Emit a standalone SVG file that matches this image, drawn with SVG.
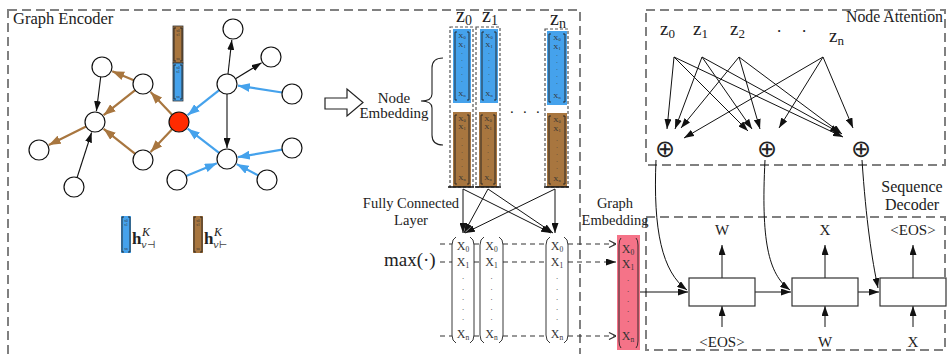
<svg xmlns="http://www.w3.org/2000/svg" width="948" height="354" viewBox="0 0 948 354">
<defs>
<style>
.t{font-family:"Liberation Serif","Times New Roman",serif;fill:#222}
.box{fill:none;stroke:#808080;stroke-width:2;stroke-dasharray:9,5}
.nd{fill:#fff;stroke:#111;stroke-width:1.2}
.eb{stroke:#45A2EC;stroke-width:2.2;fill:none;marker-end:url(#mb)}
.er{stroke:#A8763F;stroke-width:2.2;fill:none;marker-end:url(#mr)}
.ek{stroke:#111;stroke-width:1.1;fill:none;marker-end:url(#mk)}
.ar{stroke:#111;stroke-width:1;fill:none;marker-end:url(#mk)}
.dl{stroke:#333;stroke-width:1.2;stroke-dasharray:5,4;fill:none}
.br{stroke:#222;stroke-width:0.9;fill:none}
.cx{font-family:"Liberation Serif","Times New Roman",serif;fill:#333;text-anchor:middle}
.cd{stroke:#555;stroke-width:1.2;stroke-dasharray:3,2;fill:none}
.sm{font-family:"DejaVu Sans",sans-serif;fill:#222;text-anchor:middle;font-size:24px}
</style>
<marker id="mb" viewBox="0 0 12 9" refX="12" refY="4.5" markerWidth="12" markerHeight="9" markerUnits="userSpaceOnUse" orient="auto"><path d="M0,0 L12,4.5 L0,9 z" fill="#45A2EC"/></marker>
<marker id="mr" viewBox="0 0 12 9" refX="12" refY="4.5" markerWidth="12" markerHeight="9" markerUnits="userSpaceOnUse" orient="auto"><path d="M0,0 L12,4.5 L0,9 z" fill="#A8763F"/></marker>
<marker id="mk" viewBox="0 0 10 7" refX="10" refY="3.5" markerWidth="10" markerHeight="7" markerUnits="userSpaceOnUse" orient="auto"><path d="M0,0 L10,3.5 L0,7 z" fill="#111"/></marker>
<marker id="mo" viewBox="0 0 8 8" refX="8" refY="4" markerWidth="8" markerHeight="8" markerUnits="userSpaceOnUse" orient="auto"><path d="M1,0.5 L8,4 L1,7.5" fill="none" stroke="#333" stroke-width="1.2"/></marker>
</defs>
<rect width="948" height="354" fill="#fff"/>

<g id="graph-encoder-box">
<rect class="box" x="8" y="10" width="572" height="370"/>
<text class="t" x="13" y="24" font-size="16.5">Graph Encoder</text>
</g>
<g id="node-attention-box">
<rect class="box" x="646" y="10" width="299" height="155"/>
<text class="t" x="943" y="22" font-size="15.8" text-anchor="end">Node Attention</text>
</g>
<g id="sequence-decoder-box">
<rect class="box" x="646" y="217" width="299" height="133"/>
<text class="t" x="912" y="192" font-size="16" text-anchor="middle">Sequence</text>
<text class="t" x="912" y="210" font-size="16" text-anchor="middle">Decoder</text>
</g>

<g id="graph-edges">
<line class="ek" x1="228" y1="74" x2="231.8" y2="39.9"/>
<line class="ek" x1="235.5" y1="78.8" x2="261.6" y2="62.8"/>
<line class="eb" x1="282.1" y1="92.5" x2="237.9" y2="85.7"/>
<line class="eb" x1="219.2" y1="90.2" x2="187.6" y2="115.2"/>
<line class="ek" x1="227" y1="94" x2="227" y2="148"/>
<line class="eb" x1="219.1" y1="152.9" x2="187.7" y2="128.7"/>
<line class="eb" x1="282.1" y1="149.7" x2="237.8" y2="157.2"/>
<line class="eb" x1="258.2" y1="175.4" x2="236.7" y2="164.1"/>
<line class="eb" x1="186.2" y1="176.1" x2="216.9" y2="163.3"/>
<line class="er" x1="172.1" y1="114.7" x2="150.6" y2="92"/>
<line class="er" x1="172.1" y1="129.3" x2="150.6" y2="152"/>
<line class="er" x1="133.8" y1="80.2" x2="112.2" y2="71.2"/>
<line class="er" x1="135.2" y1="90.2" x2="103.6" y2="115.2"/>
<line class="er" x1="135.2" y1="153.8" x2="103.6" y2="128.8"/>
<line class="ek" x1="100.7" y1="76.9" x2="96.4" y2="111.1"/>
<line class="ek" x1="77.1" y1="177.5" x2="91.6" y2="132.5"/>
<line class="er" x1="86.1" y1="126.5" x2="48.8" y2="145.1"/>
</g>

<g id="n-top"><circle class="nd" cx="233" cy="29" r="10"/></g>
<g id="n-tr"><circle class="nd" cx="271" cy="57" r="10"/></g>
<g id="n-hub1"><circle class="nd" cx="227" cy="84" r="10"/></g>
<g id="n-r1"><circle class="nd" cx="292" cy="94" r="10"/></g>
<g id="n-red"><circle cx="179" cy="122" r="10" fill="#FF2A00" stroke="#111" stroke-width="1.2"/></g>
<g id="n-b1"><circle class="nd" cx="143" cy="84" r="10"/></g>
<g id="n-tl"><circle class="nd" cx="102" cy="67" r="10"/></g>
<g id="n-mid"><circle class="nd" cx="95" cy="122" r="10"/></g>
<g id="n-left"><circle class="nd" cx="39" cy="150" r="10"/></g>
<g id="n-bot"><circle class="nd" cx="74" cy="187" r="10"/></g>
<g id="n-b2"><circle class="nd" cx="143" cy="160" r="10"/></g>
<g id="n-hub2"><circle class="nd" cx="227" cy="159" r="10"/></g>
<g id="n-r2"><circle class="nd" cx="292" cy="148" r="10"/></g>
<g id="n-br"><circle class="nd" cx="267" cy="180" r="10"/></g>
<g id="n-bl"><circle class="nd" cx="177" cy="180" r="10"/></g>

<g id="enc-vector">
<rect x="173" y="26" width="10" height="37" fill="#A8763F" stroke="#333" stroke-width="0.8"/>
<rect x="173" y="63" width="10" height="38" fill="#45A2EC" stroke="#333" stroke-width="0.8"/>
<path class="br" d="M176,28 h-2 v33 h2 M180,28 h2 v33 h-2 M176,65 h-2 v34 h2 M180,65 h2 v34 h-2"/>
<text class="cx" x="178" y="32" font-size="3.5">x0</text>
<text class="cx" x="178" y="36" font-size="3.5">x1</text>
<text class="cx" x="178" y="60" font-size="3.5">xn</text>
<text class="cx" x="178" y="69" font-size="3.5">x0</text>
<text class="cx" x="178" y="73" font-size="3.5">x1</text>
<text class="cx" x="178" y="98" font-size="3.5">xn</text>
</g>

<g id="legend-blue">
<rect x="121" y="216" width="10" height="37" fill="#45A2EC"/>
<path class="br" d="M124,217 h-2 v35 h2 M128,217 h2 v35 h-2" stroke-width="1.1"/>
<text class="cx" x="126" y="222" font-size="3.5">x0</text>
<text class="cx" x="126" y="226" font-size="3.5">x1</text>
<text class="cx" x="126" y="250" font-size="3.5">xn</text>
<text class="t" x="132" y="244" font-size="17" font-weight="bold">h</text>
<text class="t" x="142" y="236" font-size="12" font-style="italic">K</text>
<text x="141" y="248" font-size="10" font-style="italic" fill="#444" font-family="DejaVu Serif,serif">v⊣</text>
</g>
<g id="legend-brown">
<rect x="193" y="216" width="10" height="37" fill="#A8763F"/>
<path class="br" d="M196,217 h-2 v35 h2 M200,217 h2 v35 h-2" stroke-width="1.1"/>
<text class="cx" x="198" y="222" font-size="3.5">x0</text>
<text class="cx" x="198" y="226" font-size="3.5">x1</text>
<text class="cx" x="198" y="250" font-size="3.5">xn</text>
<text class="t" x="204" y="244" font-size="17" font-weight="bold">h</text>
<text class="t" x="214" y="236" font-size="12" font-style="italic">K</text>
<text x="213" y="248" font-size="10" font-style="italic" fill="#444" font-family="DejaVu Serif,serif">v⊢</text>
</g>

<g id="hollow-arrow">
<polygon points="325,98 347,98 347,89 363,102.5 347,116 347,109 325,109" fill="#fff" stroke="#222" stroke-width="1.2"/>
</g>

<g id="node-embedding-label">
<text class="t" x="394" y="103" font-size="15" text-anchor="middle">Node</text>
<text class="t" x="394" y="118" font-size="15" text-anchor="middle">Embedding</text>
<path d="M443,58 Q432,58 432,68 L432,94 Q432,101 421,101 Q432,101 432,108 L432,135 Q432,145 443,145" fill="none" stroke="#222" stroke-width="1.1"/>
</g>

<g id="emb-z0">
<text class="t" x="456" y="22" font-size="20">z<tspan font-size="14" dy="3">0</tspan></text>
<rect x="453" y="29" width="18" height="74" fill="#45A2EC"/>
<rect x="453" y="112" width="18" height="75" fill="#A8763F"/>
<path class="br" d="M457,32 h-2 v68 h2 M467,32 h2 v68 h-2 M457,115 h-2 v69 h2 M467,115 h2 v69 h-2"/>
<rect class="cd" x="450" y="27" width="23" height="160"/>
<line x1="448" y1="187" x2="474" y2="187" stroke="#111" stroke-width="1.5"/>
<text class="cx" x="462" y="38" font-size="7">X<tspan font-size="4.5" dy="1">0</tspan></text>
<text class="cx" x="462" y="46.5" font-size="7">X<tspan font-size="4.5" dy="1">1</tspan></text>
<text class="cx" x="462" y="56" font-size="6">·</text><text class="cx" x="462" y="63" font-size="6">·</text><text class="cx" x="462" y="70" font-size="6">·</text><text class="cx" x="462" y="77" font-size="6">·</text><text class="cx" x="462" y="84" font-size="6">·</text>
<text class="cx" x="462" y="96" font-size="7">X<tspan font-size="4.5" dy="1">n</tspan></text>
<text class="cx" x="462" y="120.5" font-size="7">X<tspan font-size="4.5" dy="1">0</tspan></text>
<text class="cx" x="462" y="129" font-size="7">X<tspan font-size="4.5" dy="1">1</tspan></text>
<text class="cx" x="462" y="141" font-size="6">·</text><text class="cx" x="462" y="148" font-size="6">·</text><text class="cx" x="462" y="155" font-size="6">·</text><text class="cx" x="462" y="162" font-size="6">·</text><text class="cx" x="462" y="169" font-size="6">·</text>
<text class="cx" x="462" y="180" font-size="7">X<tspan font-size="4.5" dy="1">n</tspan></text>
</g>
<g id="emb-z1">
<text class="t" x="482" y="22" font-size="20">z<tspan font-size="14" dy="3">1</tspan></text>
<rect x="480" y="29" width="18" height="74" fill="#45A2EC"/>
<rect x="479" y="112" width="18" height="75" fill="#A8763F"/>
<path class="br" d="M484,32 h-2 v68 h2 M494,32 h2 v68 h-2 M483,115 h-2 v69 h2 M493,115 h2 v69 h-2"/>
<rect class="cd" x="476" y="27" width="24" height="160"/>
<line x1="475" y1="187" x2="501" y2="187" stroke="#111" stroke-width="1.5"/>
<text class="cx" x="489" y="38" font-size="7">X<tspan font-size="4.5" dy="1">0</tspan></text>
<text class="cx" x="489" y="46.5" font-size="7">X<tspan font-size="4.5" dy="1">1</tspan></text>
<text class="cx" x="489" y="56" font-size="6">·</text><text class="cx" x="489" y="63" font-size="6">·</text><text class="cx" x="489" y="70" font-size="6">·</text><text class="cx" x="489" y="77" font-size="6">·</text><text class="cx" x="489" y="84" font-size="6">·</text>
<text class="cx" x="489" y="96" font-size="7">X<tspan font-size="4.5" dy="1">n</tspan></text>
<text class="cx" x="488" y="120.5" font-size="7">X<tspan font-size="4.5" dy="1">0</tspan></text>
<text class="cx" x="488" y="129" font-size="7">X<tspan font-size="4.5" dy="1">1</tspan></text>
<text class="cx" x="488" y="141" font-size="6">·</text><text class="cx" x="488" y="148" font-size="6">·</text><text class="cx" x="488" y="155" font-size="6">·</text><text class="cx" x="488" y="162" font-size="6">·</text><text class="cx" x="488" y="169" font-size="6">·</text>
<text class="cx" x="488" y="180" font-size="7">X<tspan font-size="4.5" dy="1">n</tspan></text>
</g>
<g id="emb-dots">
<text class="t" x="510" y="113" font-size="15">.</text>
<text class="t" x="523" y="113" font-size="15">.</text>
<text class="t" x="536" y="113" font-size="15">.</text>
</g>
<g id="emb-zn">
<text class="t" x="550" y="25" font-size="20">z<tspan font-size="14" dy="3">n</tspan></text>
<rect x="547" y="31" width="20" height="74" fill="#45A2EC"/>
<rect x="547" y="113" width="20" height="74" fill="#A8763F"/>
<path class="br" d="M551,34 h-2 v68 h2 M563,34 h2 v68 h-2 M551,116 h-2 v68 h2 M563,116 h2 v68 h-2"/>
<rect class="cd" x="545" y="29" width="23" height="158"/>
<line x1="544" y1="187" x2="569" y2="187" stroke="#111" stroke-width="1.5"/>
<text class="cx" x="557" y="40" font-size="7">X<tspan font-size="4.5" dy="1">0</tspan></text>
<text class="cx" x="557" y="48.5" font-size="7">X<tspan font-size="4.5" dy="1">1</tspan></text>
<text class="cx" x="557" y="58" font-size="6">·</text><text class="cx" x="557" y="65" font-size="6">·</text><text class="cx" x="557" y="72" font-size="6">·</text><text class="cx" x="557" y="79" font-size="6">·</text><text class="cx" x="557" y="86" font-size="6">·</text>
<text class="cx" x="557" y="98" font-size="7">X<tspan font-size="4.5" dy="1">n</tspan></text>
<text class="cx" x="557" y="122" font-size="7">X<tspan font-size="4.5" dy="1">0</tspan></text>
<text class="cx" x="557" y="130.5" font-size="7">X<tspan font-size="4.5" dy="1">1</tspan></text>
<text class="cx" x="557" y="143" font-size="6">·</text><text class="cx" x="557" y="150" font-size="6">·</text><text class="cx" x="557" y="157" font-size="6">·</text><text class="cx" x="557" y="164" font-size="6">·</text><text class="cx" x="557" y="171" font-size="6">·</text>
<text class="cx" x="557" y="181" font-size="7">X<tspan font-size="4.5" dy="1">n</tspan></text>
</g>

<g id="fc-label">
<text class="t" x="411" y="208" font-size="14.5" text-anchor="middle">Fully Connected</text>
<text class="t" x="411" y="225" font-size="14.5" text-anchor="middle">Layer</text>
</g>
<g id="max-label">
<text class="t" x="384" y="266" font-size="19">max(·)</text>
</g>

<g id="connectors">
<line class="ar" x1="463" y1="189" x2="463" y2="233"/>
<line class="ar" x1="463" y1="189" x2="551" y2="233"/>
<line class="ar" x1="488" y1="189" x2="464" y2="233"/>
<line class="ar" x1="488" y1="189" x2="553" y2="233"/>
<line class="ar" x1="555" y1="189" x2="465" y2="233"/>
<line class="ar" x1="555" y1="189" x2="555" y2="233"/>
<path class="dl" d="M440,244 H452 M474,244 H480 M503,244 H546"/>
<path class="dl" d="M440,262 H452 M474,262 H480 M503,262 H546"/>
<path class="dl" d="M440,336 H452 M474,336 H480 M503,336 H546"/>
<line class="dl" x1="568" y1="244" x2="616" y2="244" marker-end="url(#mo)"/>
<line class="dl" x1="568" y1="262" x2="616" y2="262" marker-end="url(#mk)"/>
<line class="dl" x1="568" y1="336" x2="616" y2="336" marker-end="url(#mo)"/>
<line class="ar" x1="674" y1="57" x2="667" y2="129"/>
<line class="ar" x1="674" y1="57" x2="748" y2="131"/>
<line class="ar" x1="674" y1="57" x2="843" y2="137"/>
<line class="ar" x1="702" y1="57" x2="675" y2="129"/>
<line class="ar" x1="702" y1="57" x2="752" y2="129"/>
<line class="ar" x1="702" y1="57" x2="840" y2="133"/>
<line class="ar" x1="739" y1="57" x2="681" y2="128"/>
<line class="ar" x1="739" y1="57" x2="760" y2="129"/>
<line class="ar" x1="739" y1="57" x2="842" y2="134"/>
<line class="ar" x1="823" y1="57" x2="684" y2="138"/>
<line class="ar" x1="823" y1="57" x2="779" y2="128"/>
<line class="ar" x1="823" y1="57" x2="853" y2="128"/>
<path class="ar" d="M656,160 C653,230 662,272 687,290"/>
<path class="ar" d="M765,160 C761,240 768,274 790,290"/>
<path class="ar" d="M862,160 C866,220 872,260 878,288"/>
<line class="ar" x1="640" y1="292" x2="688" y2="292"/>
<line class="ar" x1="755" y1="292" x2="791" y2="292"/>
<line class="ar" x1="858" y1="292" x2="879" y2="292"/>
<line class="ar" x1="722" y1="278" x2="722" y2="245"/>
<line class="ar" x1="825" y1="278" x2="825" y2="245"/>
<line class="ar" x1="913" y1="278" x2="913" y2="245"/>
<line class="ar" x1="722" y1="327" x2="722" y2="306"/>
<line class="ar" x1="825" y1="327" x2="825" y2="306"/>
<line class="ar" x1="913" y1="327" x2="913" y2="306"/>
</g>

<g id="fc-col1">
<path class="br" d="M456,237 Q452,239 452,245 L452,335 Q452,341 456,343 M470,237 Q474,239 474,245 L474,335 Q474,341 470,343"/>
<text class="cx" x="463" y="250" font-size="12">X<tspan font-size="7.5" dy="2">0</tspan></text>
<text class="cx" x="463" y="266" font-size="12">X<tspan font-size="7.5" dy="2">1</tspan></text>
<text class="cx" x="463" y="281" font-size="8">·</text><text class="cx" x="463" y="292" font-size="8">·</text><text class="cx" x="463" y="302" font-size="8">·</text><text class="cx" x="463" y="312" font-size="8">·</text><text class="cx" x="463" y="322" font-size="8">·</text>
<text class="cx" x="463" y="338" font-size="12">X<tspan font-size="7.5" dy="2">n</tspan></text>
</g>
<g id="fc-col2">
<path class="br" d="M484,237 Q480,239 480,245 L480,335 Q480,341 484,343 M499,237 Q503,239 503,245 L503,335 Q503,341 499,343"/>
<text class="cx" x="491.5" y="250" font-size="12">X<tspan font-size="7.5" dy="2">0</tspan></text>
<text class="cx" x="491.5" y="266" font-size="12">X<tspan font-size="7.5" dy="2">1</tspan></text>
<text class="cx" x="491.5" y="281" font-size="8">·</text><text class="cx" x="491.5" y="292" font-size="8">·</text><text class="cx" x="491.5" y="302" font-size="8">·</text><text class="cx" x="491.5" y="312" font-size="8">·</text><text class="cx" x="491.5" y="322" font-size="8">·</text>
<text class="cx" x="491.5" y="338" font-size="12">X<tspan font-size="7.5" dy="2">n</tspan></text>
</g>
<g id="fc-col3">
<path class="br" d="M550,237 Q546,239 546,245 L546,335 Q546,341 550,343 M564,237 Q568,239 568,245 L568,335 Q568,341 564,343"/>
<text class="cx" x="557" y="250" font-size="12">X<tspan font-size="7.5" dy="2">0</tspan></text>
<text class="cx" x="557" y="266" font-size="12">X<tspan font-size="7.5" dy="2">1</tspan></text>
<text class="cx" x="557" y="281" font-size="8">·</text><text class="cx" x="557" y="292" font-size="8">·</text><text class="cx" x="557" y="302" font-size="8">·</text><text class="cx" x="557" y="312" font-size="8">·</text><text class="cx" x="557" y="322" font-size="8">·</text>
<text class="cx" x="557" y="338" font-size="12">X<tspan font-size="7.5" dy="2">n</tspan></text>
</g>

<g id="graph-embedding">
<text class="t" x="615" y="208" font-size="14.5" text-anchor="middle">Graph</text>
<text class="t" x="615" y="225" font-size="14.5" text-anchor="middle">Embedding</text>
<rect x="617" y="235" width="23" height="115" fill="#F57388"/>
<path class="br" d="M621,238 Q619,240 619,245 L619,341 Q619,346 621,348 M636,238 Q638,240 638,245 L638,341 Q638,346 636,348"/>
<text class="cx" x="628" y="253" font-size="12">X<tspan font-size="7.5" dy="2">0</tspan></text>
<text class="cx" x="628" y="268" font-size="12">X<tspan font-size="7.5" dy="2">1</tspan></text>
<text class="cx" x="628" y="283" font-size="8">·</text><text class="cx" x="628" y="294" font-size="8">·</text><text class="cx" x="628" y="304" font-size="8">·</text><text class="cx" x="628" y="314" font-size="8">·</text><text class="cx" x="628" y="324" font-size="8">·</text>
<text class="cx" x="628" y="340" font-size="12">X<tspan font-size="7.5" dy="2">n</tspan></text>
</g>

<g id="att-z">
<text class="t" x="660" y="35" font-size="19">z<tspan font-size="13" dy="3">0</tspan></text>
<text class="t" x="693" y="35" font-size="19">z<tspan font-size="13" dy="3">1</tspan></text>
<text class="t" x="730" y="35" font-size="19">z<tspan font-size="13" dy="3">2</tspan></text>
<text class="t" x="777" y="32" font-size="17">.</text>
<text class="t" x="802" y="32" font-size="17">.</text>
<text class="t" x="829" y="42" font-size="19">z<tspan font-size="13" dy="3">n</tspan></text>
</g>
<g id="sum1"><text class="sm" x="665" y="157">⊕</text></g>
<g id="sum2"><text class="sm" x="767" y="157">⊕</text></g>
<g id="sum3"><text class="sm" x="861" y="157">⊕</text></g>

<g id="dec1">
<rect x="689" y="278" width="66" height="28" fill="#fff" stroke="#333" stroke-width="1.2"/>
<text class="t" x="722" y="235" font-size="15" text-anchor="middle">W</text>
<text class="t" x="722" y="347" font-size="15" text-anchor="middle">&lt;EOS&gt;</text>
</g>
<g id="dec2">
<rect x="792" y="278" width="66" height="28" fill="#fff" stroke="#333" stroke-width="1.2"/>
<text class="t" x="825" y="235" font-size="15" text-anchor="middle">X</text>
<text class="t" x="825" y="347" font-size="15" text-anchor="middle">W</text>
</g>
<g id="dec3">
<rect x="880" y="278" width="66" height="28" fill="#fff" stroke="#333" stroke-width="1.2"/>
<text class="t" x="913" y="235" font-size="15" text-anchor="middle">&lt;EOS&gt;</text>
<text class="t" x="913" y="347" font-size="15" text-anchor="middle">X</text>
</g>
</svg>
